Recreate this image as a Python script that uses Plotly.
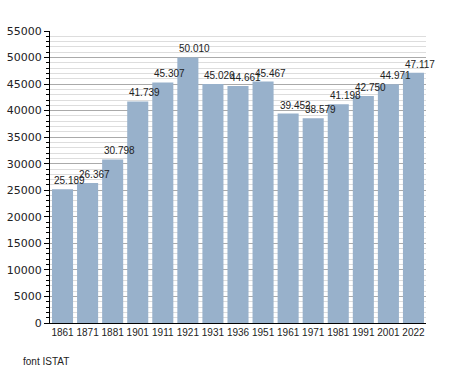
import plotly.graph_objects as go

years = ["1861", "1871", "1881", "1901", "1911", "1921", "1931", "1936",
         "1951", "1961", "1971", "1981", "1991", "2001", "2022"]
population = [25189, 26367, 30798, 41739, 45307, 50010, 45026, 44661,
              45467, 39452, 38579, 41198, 42750, 44971, 47117]
labels = ["25.189", "26.367", "30.798", "41.739", "45.307", "50.010", "45.026", "44.661",
          "45.467", "39.452", "38.579", "41.198", "42.750", "44.971", "47.117"]

fig = go.Figure(go.Bar(
    x=years, y=population,
    marker=dict(color="#98b1cb", line=dict(width=0)),
    hoverinfo="x+y",
))

# value labels, positioned by category index (left-aligned to each bar)
for i, (val, lab) in enumerate(zip(population, labels)):
    fig.add_annotation(x=i, y=val, text=lab, showarrow=False,
                       xanchor="left", yanchor="bottom", xshift=-10.5, yshift=1,
                       font=dict(family="Liberation Sans, Arial", size=10, color="#222"))

fig.update_layout(
    width=455, height=373,
    margin=dict(l=50, r=29, t=31, b=50, autoexpand=False),
    plot_bgcolor="white", paper_bgcolor="white",
    bargap=0.16,
    showlegend=False,
    font=dict(family="Liberation Sans, Arial", size=10, color="#222"),
)
fig.update_xaxes(
    type="category", range=[-0.5, len(years) - 0.5], autorange=False,
    showline=True, linecolor="black", linewidth=1,
    ticks="", showgrid=False, tickangle=0, automargin=False,
    tickfont=dict(family="Liberation Sans, Arial", size=10, color="#222"),
)
fig.update_yaxes(
    range=[0, 55000], autorange=False, dtick=5000, showline=True, linecolor="black", linewidth=1,
    ticks="outside", ticklen=5, tickcolor="black", showgrid=True,
    gridcolor="#aaaaaa", gridwidth=1, zeroline=False, tickformat="d",
    automargin=False,
    minor=dict(dtick=1000, showgrid=True, gridcolor="#dddddd", ticks="outside",
               ticklen=3, tickcolor="black"),
    tickfont=dict(family="DejaVu Sans", size=11, color="#222"),
)
fig.add_annotation(text="font ISTAT", xref="paper", yref="paper",
                   x=-29 / 376, y=-38 / 292,
                   xanchor="left", yanchor="middle", showarrow=False,
                   font=dict(family="Liberation Sans, Arial", size=10, color="#222"))

fig.write_html("out.html", config={"displayModeBar": False},
               post_script="document.body.style.margin='0';document.body.style.padding='0';")
